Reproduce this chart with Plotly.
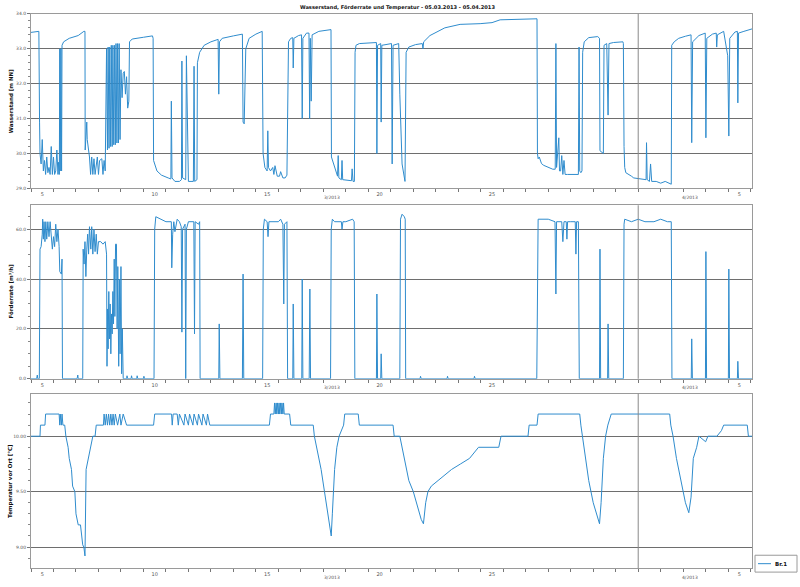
import plotly.graph_objects as go

# ---------------- data (day of March; April days = 31 + d) ----------------
level_day = [4.5, 4.85, 4.88, 4.9, 4.95, 5.0, 5.05, 5.1, 5.15, 5.2, 5.25, 5.3, 5.35, 5.4, 5.45, 5.5, 5.55, 5.6, 5.65, 5.7,
             5.72, 5.76, 5.78, 5.8, 5.83, 5.86, 5.88, 5.95, 6.2, 6.6, 6.85,
             6.9, 6.91, 6.95, 6.98, 7.0, 7.1, 7.15, 7.2, 7.25, 7.3, 7.35, 7.45, 7.5, 7.55, 7.65, 7.7, 7.75, 7.8,
             7.86, 7.9, 7.93, 7.97, 8.0, 8.04, 8.07, 8.11, 8.14, 8.18, 8.21, 8.25, 8.28, 8.32, 8.35, 8.39, 8.42, 8.46,
             8.5, 8.55, 8.6, 8.65, 8.7, 8.75, 8.8, 8.85, 8.88, 9.0, 9.5, 9.9,
             9.93, 9.95, 10.1, 10.3, 10.6, 10.72, 10.74, 10.77, 10.9, 11.1, 11.19, 11.21, 11.24, 11.38, 11.41, 11.5, 11.72,
             11.75, 11.78, 11.88, 11.9, 12.0, 12.2, 12.5, 12.82, 12.85, 12.88, 13.0, 13.5, 13.9, 13.93, 13.98, 14.05, 14.2, 14.5, 14.78,
             14.82, 14.9, 15.0, 15.03, 15.06, 15.15, 15.25, 15.3, 15.35, 15.45, 15.55, 15.6, 15.7, 15.8, 15.88, 15.92, 15.95, 16.05, 16.14,
             16.16, 16.19, 16.4, 16.53, 16.56, 16.59, 16.75, 16.86, 16.89, 16.92, 16.96, 17.0, 17.3, 17.8,
             17.84, 17.86, 17.95, 18.05, 18.13, 18.16, 18.19, 18.3, 18.33, 18.36, 18.6, 18.75, 18.78, 18.82, 18.88, 18.91, 18.95, 19.1, 19.86,
             19.88, 19.91, 20.05, 20.07, 20.1, 20.53, 20.56, 20.6, 20.85, 20.9, 21.0, 21.13, 21.18, 21.3, 21.6, 21.9, 21.93, 21.96, 22.24, 22.9,
             23.58, 24.47, 25.0, 25.36, 26.0, 27.0,
             27.02, 27.05, 27.1, 27.2, 27.3, 27.5, 27.7, 27.81, 27.84, 27.87, 27.97, 28.0, 28.05, 28.1, 28.15, 28.2, 28.25, 28.35, 28.6,
             28.84, 28.87, 28.9, 28.95, 29.0, 29.03, 29.1, 29.3, 29.7, 29.78, 29.8, 29.95, 29.98, 30.1, 30.16, 30.2, 30.4, 30.82,
             30.84, 30.87, 30.9, 30.95, 31.1, 31.2, 31.3, 31.5, 31.85, 31.87, 31.9, 32.0, 32.05, 32.1, 32.3, 32.5, 32.7, 32.97,
             32.99, 33.1, 33.3, 33.6, 33.85, 33.88, 33.92, 34.2, 34.48, 34.51, 34.55, 34.8, 34.97, 34.99, 35.02, 35.3, 35.48,
             35.53, 35.57, 35.8, 35.91, 35.93, 35.96, 36.2, 36.56]
level_val = [33.47, 33.5, 30.9, 30.0, 29.7, 30.4, 29.5, 29.8, 29.4, 29.9, 29.45, 29.6, 29.4, 30.2, 29.4, 29.9, 29.4, 29.5, 30.1, 29.4,
             29.75, 29.4, 33.0, 29.5, 33.0, 29.5, 33.1, 33.2, 33.3, 33.38, 33.5,
             33.5, 30.1, 30.6, 30.9, 30.4, 29.9, 29.4, 29.9, 29.4, 29.85, 29.4, 29.9, 29.4, 29.8, 29.85, 29.4, 29.8, 29.5,
             33.0, 30.1, 33.05, 30.15, 33.05, 30.2, 33.1, 30.2, 33.1, 30.25, 33.1, 30.25, 33.15, 30.3, 33.15, 30.3, 33.15, 30.4,
             32.4, 31.6, 32.3, 32.35, 31.7, 32.2, 31.3, 31.5, 33.2, 33.28, 33.33, 33.37,
             33.3, 29.8, 29.5, 29.38, 29.3, 29.27, 31.5, 29.3, 29.2, 29.2, 29.25, 32.65, 29.3, 29.25, 32.8, 29.2, 29.2,
             32.5, 29.2, 29.25, 32.6, 32.9, 33.1, 33.2, 33.27, 31.7, 33.2, 33.3, 33.37, 33.42, 30.9, 30.85, 33.0, 33.3, 33.42, 33.5,
             30.0, 29.6, 29.5, 30.65, 29.6, 29.5, 29.6, 29.4, 29.65, 29.35, 29.35, 29.48, 29.3, 29.3, 29.38, 33.0, 33.2, 33.3, 33.32,
             32.45, 33.3, 33.38, 33.4, 31.0, 33.3, 33.45, 33.45, 31.0, 33.3, 31.5, 33.4, 33.5, 33.55,
             33.55, 29.9, 29.7, 29.5, 29.35, 29.94, 29.3, 29.25, 29.8, 29.25, 29.22, 29.22, 29.56, 29.2, 29.2, 32.9, 33.1, 33.15, 33.18,
             30.0, 33.1, 33.15, 30.9, 33.1, 33.15, 29.7, 33.1, 33.15, 31.7, 29.7, 29.2, 32.9, 33.05, 33.12, 33.15, 33.0, 33.2, 33.38, 33.6,
             33.7, 33.72, 33.75, 33.83, 33.84, 33.86,
             30.0, 29.85, 29.9, 29.71, 29.66, 29.6, 29.55, 29.55, 33.15, 29.6, 30.45, 29.5, 29.5, 29.94, 29.4, 29.8, 29.4, 29.4, 29.4,
             29.4, 33.05, 29.5, 29.45, 29.5, 32.9, 33.2, 33.32, 33.35, 33.3, 30.08, 30.0, 33.1, 33.15, 31.1, 33.15, 33.18, 33.2,
             33.15, 30.2, 29.6, 29.45, 29.4, 29.35, 29.3, 29.28, 29.25, 30.31, 29.25, 29.2, 29.7, 29.2, 29.2, 29.15, 29.2, 29.12,
             33.1, 33.2, 33.3, 33.36, 33.4, 30.31, 33.2, 33.38, 33.45, 30.45, 33.3, 33.42, 33.45, 33.05, 33.4, 33.5, 32.8,
             30.5, 33.3, 33.48, 33.5, 31.45, 33.45, 33.5, 33.57]

rate_day = [4.5, 4.75, 4.78, 4.8, 4.87, 4.9, 4.95, 5.0, 5.02, 5.05, 5.08, 5.12, 5.16, 5.2, 5.25, 5.3, 5.35, 5.4, 5.45, 5.5,
            5.55, 5.6, 5.65, 5.7, 5.75, 5.78, 5.85, 5.88, 5.9,
            6.55, 6.58, 6.6, 6.8, 6.82, 6.86, 6.9, 6.94, 6.98, 7.02, 7.06, 7.1, 7.16, 7.2, 7.25, 7.3, 7.35, 7.4, 7.45, 7.5,
            7.6, 7.7, 7.8, 7.86,
            7.88, 7.9, 7.93, 7.96, 7.99, 8.02, 8.05, 8.08, 8.11, 8.14, 8.17, 8.2, 8.23, 8.26, 8.3, 8.33, 8.36, 8.4, 8.43, 8.46,
            8.5, 8.53, 8.56, 8.6, 8.75, 8.77, 8.8, 8.95, 8.97, 9.0, 9.2, 9.22, 9.25, 9.5, 9.52, 9.55, 9.97,
            10.0, 10.05, 10.3, 10.5, 10.74, 10.76, 10.8, 10.85, 10.9, 11.0, 11.1, 11.18, 11.21, 11.24, 11.35, 11.38, 11.41, 11.5,
            11.74, 11.77, 11.8, 11.95, 12.0, 12.02,
            12.85, 12.87, 12.9, 13.9, 13.93, 13.96,
            14.8, 14.83, 14.88, 15.0, 15.04, 15.08, 15.5, 15.6, 15.7, 15.74, 15.77, 15.88, 15.91,
            16.14, 16.16, 16.19, 16.54, 16.56, 16.59, 16.87, 16.9, 16.93, 17.82,
            17.85, 17.9, 18.0, 18.3, 18.33, 18.37, 18.5, 18.8, 18.87, 18.9,
            19.86, 19.88, 19.91, 20.05, 20.07, 20.1, 20.9, 20.93, 21.0, 21.1, 21.14, 21.16,
            21.8, 21.82, 21.85, 23.0, 23.02, 23.05, 24.2, 24.22, 24.25, 26.99,
            27.02, 27.05, 27.5, 27.8, 27.84, 27.87, 28.1, 28.15, 28.2, 28.3, 28.33, 28.36, 28.5, 28.7, 28.73, 28.76, 28.84,
            28.86, 28.88, 28.9, 29.78, 29.8, 29.83, 30.14, 30.16, 30.19, 30.84,
            30.87, 30.9, 31.2, 31.5, 31.8, 32.2, 32.5, 32.8, 32.97, 33.0,
            33.86, 33.88, 33.91, 34.49, 34.51, 34.54, 35.51, 35.53, 35.56, 35.91, 35.93, 35.96, 36.56]
rate_val = [0, 0, 1.5, 0, 0, 52, 53, 58, 64, 56, 63, 55, 63, 56, 63, 57, 63, 55, 52, 57,
            53, 62, 55, 60, 53, 43, 42, 48, 0,
            0, 1.5, 0, 0, 52, 46, 55, 41, 52, 58, 50, 61, 52, 61, 50, 60, 51, 58, 50, 55,
            55, 54, 55, 50,
            5, 28, 12, 35, 16, 30, 10, 26, 18, 35, 22, 48, 25, 54, 54, 20, 45, 5, 40, 10,
            45, 2, 20, 0, 0, 1.2, 0, 0, 1.2, 0, 0, 1.2, 0, 0, 1, 0, 0,
            60, 65, 64, 63, 63, 44.5, 58, 63, 59, 64, 63, 61, 18.7, 60, 62, 0, 60, 63,
            63, 18, 63, 62, 63, 0,
            0, 22, 0, 0, 42, 0,
            0, 60, 64, 63, 57, 63, 63, 64, 62, 30, 62, 63, 0,
            0, 30, 0, 0, 40, 0, 0, 36, 0, 0,
            60, 64, 63, 63, 60, 63, 63, 64, 63, 0,
            0, 34, 0, 0, 10, 0, 0, 64, 66, 65, 64, 0,
            0, 1, 0, 0, 1, 0, 0, 1, 0, 0,
            62, 64, 64, 63, 34, 63, 63, 55, 63, 63, 56, 63, 63, 63, 50, 63, 63,
            0, 0, 0, 0, 52, 0, 0, 22, 0, 0,
            62, 64, 63, 64, 63, 63, 64, 63, 63, 0,
            0, 16, 0, 0, 51, 0, 0, 44, 0, 0, 7, 0, 0]

temp_day = [4.5, 4.9, 4.92, 5.12, 5.15, 5.75, 5.78, 5.8, 5.85, 5.88, 5.92, 6.0, 6.05, 6.15, 6.2, 6.3, 6.35, 6.45, 6.5, 6.6,
            6.7, 6.75, 6.8, 6.85, 6.9, 6.95, 7.0, 7.05, 7.15, 7.25, 7.35, 7.4, 7.72,
            7.75, 7.8, 7.85, 7.9, 7.95, 8.0, 8.05, 8.1, 8.15, 8.2, 8.25, 8.35, 8.45, 8.5, 8.6, 8.75, 9.95,
            10.0, 10.75, 10.78, 10.82, 11.0, 11.05, 11.1, 11.3, 11.35, 11.5, 11.55, 11.7, 11.75, 11.9, 11.95, 12.1, 12.15,
            12.3, 12.35, 12.45, 15.1, 15.15, 15.3, 15.33, 15.36, 15.4, 15.43, 15.46, 15.5, 15.53, 15.56, 15.6, 15.63, 15.66,
            15.7, 15.73, 15.76, 15.8, 16.0, 16.05, 17.05, 17.1, 17.2, 17.4, 17.55, 17.7, 17.8, 17.85, 17.9, 18.0, 18.1, 18.2, 18.4,
            18.45, 19.05, 19.1, 20.6, 20.65, 20.9, 21.1, 21.3, 21.5, 21.7, 21.85, 21.95, 22.05, 22.15, 22.3, 22.6, 22.9, 23.2,
            23.6, 24.0, 24.4, 25.3, 25.4, 26.6, 26.65, 27.0, 27.05, 28.9, 28.95, 29.1, 29.3, 29.5, 29.7, 29.78, 29.85, 29.95,
            30.05, 30.15, 30.3, 32.9, 32.95, 33.05, 33.2, 33.4, 33.6, 33.75, 33.85, 33.95, 34.1, 34.2, 34.5, 34.6, 35.0, 35.2,
            35.3, 36.35, 36.4, 36.56]
temp_val = [10.0, 10.0, 10.1, 10.1, 10.2, 10.2, 10.1, 10.2, 10.1, 10.2, 10.1, 10.1, 10.0, 9.9, 9.8, 9.7, 9.55, 9.5, 9.3, 9.2,
            9.2, 9.1, 9.02, 9.0, 8.92, 9.7, 9.75, 9.8, 9.9, 10.0, 10.0, 10.1, 10.1,
            10.2, 10.1, 10.2, 10.1, 10.2, 10.1, 10.2, 10.1, 10.2, 10.1, 10.2, 10.1, 10.2, 10.1, 10.2, 10.1, 10.1,
            10.2, 10.2, 10.1, 10.2, 10.2, 10.1, 10.2, 10.1, 10.2, 10.1, 10.2, 10.1, 10.2, 10.1, 10.2, 10.1, 10.2,
            10.1, 10.2, 10.1, 10.1, 10.2, 10.2, 10.3, 10.2, 10.3, 10.2, 10.3, 10.2, 10.3, 10.2, 10.3, 10.2, 10.3,
            10.2, 10.3, 10.2, 10.2, 10.2, 10.1, 10.1, 10.0, 9.9, 9.7, 9.5, 9.3, 9.2, 9.1, 9.3, 9.7, 9.9, 10.0, 10.1,
            10.2, 10.2, 10.1, 10.1, 10.0, 10.0, 9.8, 9.6, 9.5, 9.35, 9.25, 9.21, 9.4, 9.5, 9.55, 9.6, 9.65, 9.7,
            9.75, 9.8, 9.9, 9.9, 10.0, 10.0, 10.1, 10.1, 10.2, 10.2, 10.1, 9.9, 9.6, 9.4, 9.25, 9.21, 9.4, 9.8,
            10.0, 10.1, 10.2, 10.2, 10.1, 10.0, 9.8, 9.6, 9.4, 9.31, 9.45, 9.8, 9.9, 10.0, 9.95, 10.0, 10.0, 10.05,
            10.1, 10.1, 10.0, 10.0]

x_tickvals = [5, 10, 15, 20, 25, 36]
x_ticktext = ["5", "10", "15", "20", "25", "5"]
month_labels = ["3/2013", "4/2013"]
month_pos = [17.9, 33.8]
month_break = 31.5

y_titles = ["Wasserstand [m NN]", "Förderrate [m³/h]", "Temperatur vor Ort [°C]"]
title_text = "Wasserstand, Förderrate und Temperatur - 05.03.2013 - 05.04.2013"
series_name = "Br.1"

# ---------------- figure ----------------
W, H = 800, 587
LINE = "#2f8ccd"
GRID = "#6e6e6e"
FRAME = "#9a9a9a"
FONT = "DejaVu Sans"

def py2p(py):
    return 1 - py / H

xdom = [31 / W, 752 / W]
panels = [(12, 188), (205, 380), (395, 571)]

fig = go.Figure()
data = [(level_day, level_val), (rate_day, rate_val), (temp_day, temp_val)]
for i, (xs, ys) in enumerate(data):
    sfx = "" if i == 0 else str(i + 1)
    fig.add_trace(go.Scatter(x=xs, y=ys, mode="lines", line=dict(color=LINE, width=1),
                             xaxis="x" + sfx, yaxis="y" + sfx, showlegend=False, name=series_name))

yranges = [[29, 34], [0, 69.6], [8.81, 10.384]]
ydticks = [1, 20, 0.5]
yminor = [0.2, 5, 0.1]
yfmt = [".1f", ".1f", ".2f"]
ytick0 = [29, 0, 9.0]

layout = dict(width=W, height=H, margin=dict(l=0, r=0, t=0, b=0),
              paper_bgcolor="white", plot_bgcolor="white", showlegend=False,
              font=dict(family=FONT, size=5, color="#444"))
for i, (top, bot) in enumerate(panels):
    sfx = "" if i == 0 else str(i + 1)
    layout["xaxis" + sfx] = dict(
        domain=xdom, anchor="y" + sfx, range=[4.5, 36.56],
        tickmode="array", tickvals=x_tickvals, ticktext=x_ticktext, ticks="",
        showgrid=False, zeroline=False, showline=True, linecolor=FRAME, linewidth=1, mirror=True,
        tickfont=dict(size=5, color="#555"), ticklabelstandoff=1,
        minor=dict(tick0=0.5, dtick=1, ticks="outside", ticklen=3, tickcolor="#777", showgrid=False))
    layout["yaxis" + sfx] = dict(
        domain=[py2p(bot), py2p(top)], anchor="x" + sfx, range=yranges[i],
        tick0=ytick0[i], dtick=ydticks[i], tickformat=yfmt[i], ticks="outside", ticklen=3, tickcolor="#777",
        showgrid=True, gridcolor=GRID, gridwidth=1, zeroline=False,
        showline=True, linecolor=FRAME, linewidth=1, mirror=True,
        tickfont=dict(size=4.5, color="#555"),
        minor=dict(dtick=yminor[i], ticks="outside", ticklen=2, tickcolor="#888", showgrid=False))
fig.update_layout(**layout)

shapes = []
annotations = []
ycent = [100, 292, 483]
for i, (top, bot) in enumerate(panels):
    sfx = "" if i == 0 else str(i + 1)
    shapes.append(dict(type="line", xref="x" + sfx, yref="paper", x0=month_break, x1=month_break,
                       y0=py2p(bot), y1=py2p(top), line=dict(color="#8a8a8a", width=1)))
    for lab, pos in zip(month_labels, month_pos):
        annotations.append(dict(text=lab, xref="x" + sfx, yref="paper", x=pos, y=py2p(bot + 9),
                                showarrow=False, yanchor="middle", font=dict(size=4.5, color="#555")))
    annotations.append(dict(text="<b>" + y_titles[i] + "</b>", xref="paper", yref="paper",
                            x=11 / W, y=py2p(ycent[i]), xanchor="center", yanchor="middle",
                            textangle=-90, showarrow=False, font=dict(size=5.5, color="#111")))

annotations.append(dict(text="<b>" + title_text + "</b>", xref="paper", yref="paper",
                        x=397 / W, y=py2p(6), xanchor="center", yanchor="middle", showarrow=False,
                        font=dict(size=5.1, color="#111")))

# legend box
shapes.append(dict(type="rect", xref="paper", yref="paper", x0=755 / W, x1=797 / W,
                   y0=py2p(575), y1=py2p(558), line=dict(color="#9a9a9a", width=1), fillcolor="white"))
shapes.append(dict(type="line", xref="paper", yref="paper", x0=758 / W, x1=771 / W,
                   y0=py2p(566.5), y1=py2p(566.5), line=dict(color=LINE, width=1)))
annotations.append(dict(text="<b>" + series_name + "</b>", xref="paper", yref="paper",
                        x=773 / W, y=py2p(566.5), xanchor="left", yanchor="middle", showarrow=False,
                        font=dict(size=5.5, color="#111")))

fig.update_layout(shapes=shapes, annotations=annotations)
fig.write_html("out.html")
